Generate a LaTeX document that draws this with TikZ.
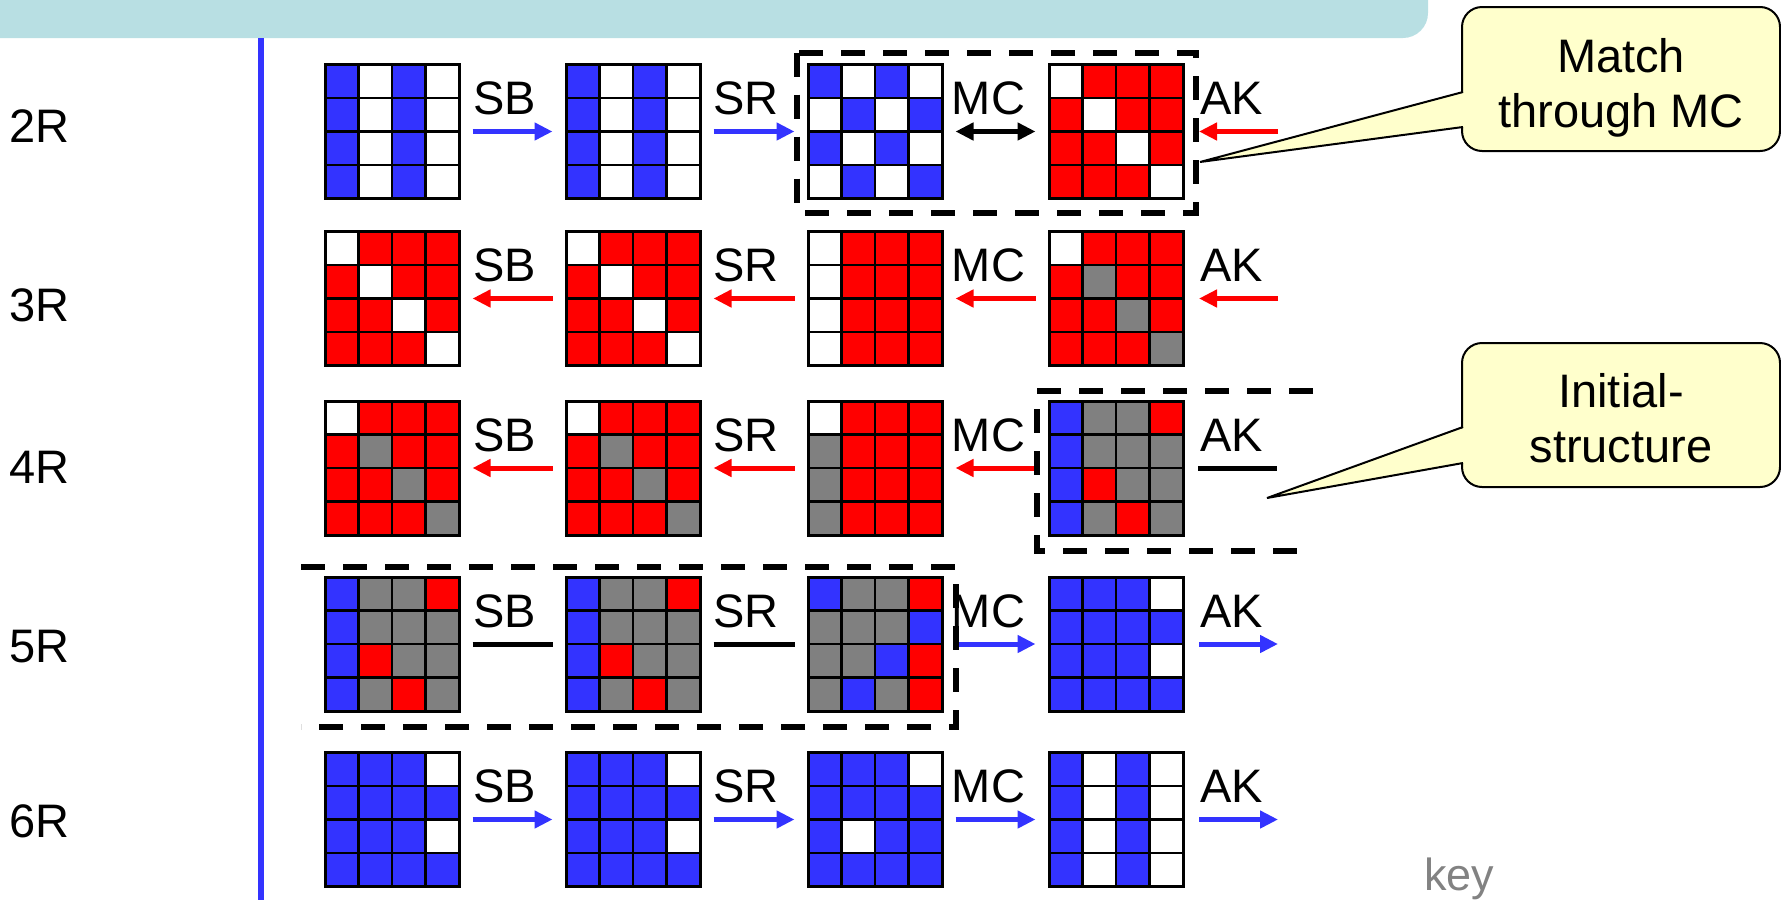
\documentclass[tikz,border=0pt]{standalone}
\usepackage{fontspec}
\setmainfont{Liberation Sans}
\usepackage{xcolor}
\usepackage{tikz}
\usetikzlibrary{arrows.meta}

\definecolor{cellB}{RGB}{51,51,255}
\definecolor{cellR}{RGB}{255,0,0}
\definecolor{cellG}{RGB}{128,128,128}
\definecolor{cellW}{RGB}{255,255,255}
\definecolor{bannerblue}{RGB}{184,223,227}
\definecolor{noteyellow}{RGB}{255,255,204}
\definecolor{keygray}{RGB}{130,130,130}

\newcommand{\opfont}{\fontsize{23.5}{27.5}\selectfont}

% 4x4 state: name, centre x, centre y, 16 cell colours row by row
\newcommand{\aesstate}[4]{%
  \node[stategrid] (#1) at (#2,#3) {};
  \foreach \clr [count=\i from 0] in {#4} {
    \pgfmathtruncatemacro{\cc}{mod(\i,4)}
    \pgfmathtruncatemacro{\rr}{div(\i,4)}
    \fill[fill=cell\clr] ({#2-67+\cc*33.5},{#3-67+\rr*33.5}) rectangle +(33.5,33.5);
  }
  \foreach \k in {1,2,3} {
    \draw[cellline] ({#2-67+\k*33.5},{#3-67}) -- +(0,134);
    \draw[cellline] ({#2-67},{#3-67+\k*33.5}) -- +(134,0);
  }
  \draw[cellline, line width=1.5pt] ({#2-67},{#3-67}) rectangle +(134,134);
}

\begin{document}
\begin{tikzpicture}[x=0.5pt, y=-0.5pt,
    stategrid/.style={minimum width=67pt, minimum height=67pt, inner sep=0pt, outer sep=0pt},
    cellline/.style={line width=1.2pt, black},
    fwd/.style={draw=cellB, line width=2.5pt, -{Triangle[length=9pt,width=8.5pt]},
        shorten <=6.75pt, shorten >=6.75pt},
    bwd/.style={fwd, draw=cellR},
    both/.style={fwd, draw=black, {Triangle[length=9pt,width=8.5pt]}-{Triangle[length=9pt,width=8.5pt]}},
    noarr/.style={draw=black, line width=2.5pt, shorten <=6.75pt, shorten >=6.75pt},
    oplabel/.style={font=\opfont, anchor=base west, inner sep=0pt},
    rowlabel/.style={font=\opfont, anchor=base west, inner sep=0pt},
    dashbox/.style={draw=black, line width=3pt, dash pattern=on 12pt off 9pt},
    notebox/.style={draw=black, fill=noteyellow, line width=1pt, rounded corners=10pt,
        minimum width=159pt, minimum height=72pt, inner sep=0pt},
    notetext/.style={font=\opfont, anchor=base, inner sep=0pt}]

    \useasboundingbox (0,0) rectangle (1781,900);
    \clip (0,0) rectangle (1781,900);

    % 1. Banner and round axis
    \fill[bannerblue, rounded corners=12.5pt] (-40,-40) rectangle (1428,38);
    \draw[cellB, line width=3pt] (261,38) -- (261,900);

    \node[rowlabel] (r2) at (9,142) {2R};
    \node[rowlabel] (r3) at (9,321) {3R};
    \node[rowlabel] (r4) at (9,483) {4R};
    \node[rowlabel] (r5) at (9,662) {5R};
    \node[rowlabel] (r6) at (9,837) {6R};

    % 2. States
    \aesstate{s11}{392}{131.5}{B,W,B,W,B,W,B,W,B,W,B,W,B,W,B,W}
    \aesstate{s12}{633}{131.5}{B,W,B,W,B,W,B,W,B,W,B,W,B,W,B,W}
    \aesstate{s13}{875}{131.5}{B,W,B,W,W,B,W,B,B,W,B,W,W,B,W,B}
    \aesstate{s14}{1116}{131.5}{W,R,R,R,R,W,R,R,R,R,W,R,R,R,R,W}

    \aesstate{s21}{392}{298.5}{W,R,R,R,R,W,R,R,R,R,W,R,R,R,R,W}
    \aesstate{s22}{633}{298.5}{W,R,R,R,R,W,R,R,R,R,W,R,R,R,R,W}
    \aesstate{s23}{875}{298.5}{W,R,R,R,W,R,R,R,W,R,R,R,W,R,R,R}
    \aesstate{s24}{1116}{298.5}{W,R,R,R,R,G,R,R,R,R,G,R,R,R,R,G}

    \aesstate{s31}{392}{468}{W,R,R,R,R,G,R,R,R,R,G,R,R,R,R,G}
    \aesstate{s32}{633}{468}{W,R,R,R,R,G,R,R,R,R,G,R,R,R,R,G}
    \aesstate{s33}{875}{468}{W,R,R,R,G,R,R,R,G,R,R,R,G,R,R,R}
    \aesstate{s34}{1116}{468}{B,G,G,R,B,G,G,G,B,R,G,G,B,G,R,G}

    \aesstate{s41}{392}{644}{B,G,G,R,B,G,G,G,B,R,G,G,B,G,R,G}
    \aesstate{s42}{633}{644}{B,G,G,R,B,G,G,G,B,R,G,G,B,G,R,G}
    \aesstate{s43}{875}{644}{B,G,G,R,G,G,G,B,G,G,B,R,G,B,G,R}
    \aesstate{s44}{1116}{644}{B,B,B,W,B,B,B,B,B,B,B,W,B,B,B,B}

    \aesstate{s51}{392}{819.5}{B,B,B,W,B,B,B,B,B,B,B,W,B,B,B,B}
    \aesstate{s52}{633}{819.5}{B,B,B,W,B,B,B,B,B,B,B,W,B,B,B,B}
    \aesstate{s53}{875}{819.5}{B,B,B,W,B,B,B,B,B,W,B,B,B,B,B,B}
    \aesstate{s54}{1116}{819.5}{B,W,B,W,B,W,B,W,B,W,B,W,B,W,B,W}

    % 3. Round operations
    \coordinate (k1) at (1278,131.5);
    \coordinate (k2) at (1278,298.5);
    \coordinate (k3) at (1277,468);
    \coordinate (k4) at (1278,644);
    \coordinate (k5) at (1278,819.5);

    \draw[fwd] (s11) -- (s12);
    \draw[fwd] (s12) -- (s13);
    \draw[both] (s13) -- (s14);
    \draw[bwd, shorten <=0pt, shorten >=8pt] (k1) -- (s14);

    \draw[bwd] (s22) -- (s21);
    \draw[bwd] (s23) -- (s22);
    \draw[bwd] (s24) -- (s23);
    \draw[bwd, shorten <=0pt, shorten >=8pt] (k2) -- (s24);

    \draw[bwd] (s32) -- (s31);
    \draw[bwd] (s33) -- (s32);
    \draw[bwd] (s34) -- (s33);
    \draw[noarr, shorten <=7.5pt, shorten >=0pt] (s34) -- (k3);

    \draw[noarr] (s41) -- (s42);
    \draw[noarr] (s42) -- (s43);
    \draw[fwd] (s43) -- (s44);
    \draw[fwd, shorten <=8pt, shorten >=0pt] (s44) -- (k4);

    \draw[fwd] (s51) -- (s52);
    \draw[fwd] (s52) -- (s53);
    \draw[fwd] (s53) -- (s54);
    \draw[fwd, shorten <=8pt, shorten >=0pt] (s54) -- (k5);

    \foreach \r/\y in {1/131.5, 2/298.5, 3/468, 4/644, 5/819.5} {
        \node[oplabel] (sb\r) at (473,\y-17) {SB};
        \node[oplabel] (sr\r) at (713,\y-17) {SR};
        \node[oplabel] (mc\r) at (951.5,\y-17) {MC};
        \node[oplabel] (ak\r) at (1200,\y-17) {AK};
    }

    % 4. Dashed frames
    \draw[dashbox] (797,52.5) rectangle (1196,212.5);
    \draw[dashbox] (1313,391) -- (1037,391) -- (1037,551) -- (1313,551);
    \draw[dashbox] (301,567) -- (956,567) -- (956,727) -- (301,727);

    % 5. Callouts
    \node[notebox] (n1) at (1621,79) {};
    \fill[noteyellow] (1466,92) -- (1200,162) -- (1466,127) -- cycle;
    \draw[line width=1pt] (1463,92) -- (1200,162) -- (1463,127);
    \node[notetext] (m1) at (1621,72) {Match};
    \node[notetext] (m2) at (1621,127) {through MC};

    \node[notebox] (n2) at (1621,415) {};
    \fill[noteyellow] (1466,427) -- (1267,498) -- (1466,463) -- cycle;
    \draw[line width=1pt] (1463,427) -- (1267,498) -- (1463,463);
    \node[notetext] (i1) at (1621,407) {Initial-};
    \node[notetext] (i2) at (1621,462) {structure};

    \node[font=\fontsize{22.5}{27}\selectfont, text=keygray, anchor=base west, inner sep=0pt]
        (key) at (1424,890) {key};
\end{tikzpicture}
\end{document}
